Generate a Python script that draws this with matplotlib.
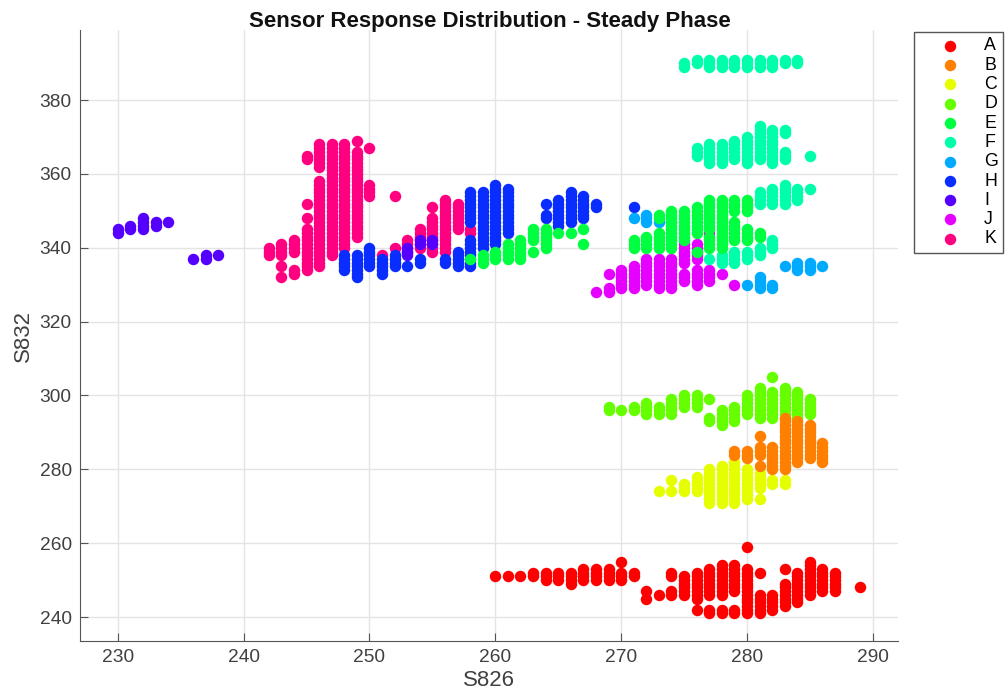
import matplotlib
matplotlib.use('Agg')
import matplotlib.pyplot as plt

plt.rcParams['font.family'] = ['Liberation Sans', 'DejaVu Sans']

labels = ['A', 'B', 'C', 'D', 'E', 'F', 'G', 'H', 'I', 'J', 'K']
colors = ['#ff0000', '#ff8000', '#e6ff00', '#66ff00', '#00ff40', '#00ffaa',
          '#00aaff', '#0a2dff', '#5500ff', '#e600ff', '#ff0080']

# one row per S826 value: (S826, [S832 readings])
A_cols = [
    (260, [251]), (261, [251]), (262, [251]), (263, [252, 251]),
    (264, [252, 251, 250]), (265, [252, 251, 250]), (266, [252, 251, 250, 249]),
    (267, [253, 252, 251, 250]), (268, [253, 252, 251, 250]), (269, [253, 252, 251, 250]),
    (270, [255, 252, 251, 250]), (271, [252, 251]), (272, [247, 245]), (273, [246]),
    (274, [252, 251, 247, 246]), (275, [251, 250, 249, 248, 247, 246]),
    (276, [252, 251, 250, 249, 248, 247, 246, 245, 242]),
    (277, [253, 252, 251, 250, 249, 248, 247, 246, 242, 241]),
    (278, [254, 253, 252, 251, 250, 249, 248, 247, 246, 242, 241]),
    (279, [254, 253, 252, 251, 250, 249, 248, 247, 242, 241]),
    (280, [259, 253, 252, 251, 250, 249, 248, 247, 246, 245, 244, 243, 242, 241]),
    (281, [252, 246, 245, 244, 243, 242, 241]), (282, [246, 245, 244, 243, 242]),
    (283, [253, 249, 248, 247, 246, 245, 244, 243]),
    (284, [252, 251, 250, 249, 248, 247, 246, 245, 244]),
    (285, [255, 254, 253, 252, 251, 250, 249, 248, 247, 246]),
    (286, [253, 252, 251, 250, 249, 248, 247]), (287, [252, 251, 250, 249, 248, 247]),
    (289, [248]),
]
B_cols = [
    (279, [285, 284]), (280, [285, 284, 283]), (281, [289, 286, 285, 284, 281]),
    (282, [286, 285, 284, 283, 282, 281, 280]),
    (283, [294, 293, 292, 291, 290, 289, 288, 287, 286, 285, 284, 283, 282, 281, 280]),
    (284, [293, 292, 291, 290, 289, 288, 287, 286, 285, 284, 283, 282]),
    (285, [292, 291, 290, 289, 288, 287, 286, 285, 284, 283]),
    (286, [287, 286, 285, 284, 283, 282]),
]
C_cols = [
    (273, [274]), (274, [277, 274]), (275, [276, 275, 274]), (276, [278, 277, 276, 275, 274]),
    (277, [280, 279, 278, 277, 276, 275, 274, 273, 272, 271]),
    (278, [281, 280, 279, 278, 277, 276, 275, 274, 273, 272, 271]),
    (279, [282, 281, 280, 279, 278, 277, 276, 275, 274, 273, 272, 271]),
    (280, [280, 279, 278, 277, 276, 275, 274, 273, 272]),
    (281, [279, 278, 277, 276, 275, 272]), (282, [277, 276]), (283, [277, 276]),
]
D_cols = [
    (269, [297, 296]), (270, [296]), (271, [297, 296]), (272, [298, 297, 296, 295]),
    (273, [297, 296, 295]), (274, [299, 298, 297, 296, 295]), (275, [300, 299, 298, 297]),
    (276, [300, 299, 298, 297]), (277, [299, 294, 293]), (278, [296, 295, 294, 293, 292]),
    (279, [297, 296, 295, 294, 293]), (280, [300, 299, 298, 297, 296, 295]),
    (281, [302, 301, 300, 299, 298, 297, 296, 295, 294]),
    (282, [305, 301, 300, 299, 298, 297, 296, 295, 294]),
    (283, [302, 301, 300, 299, 298, 297, 296, 295, 294]),
    (284, [301, 300, 299, 298, 297, 296, 295, 294]),
    (285, [299, 298, 297, 296, 295]),
]
E_cols = [
    (258, [337]), (259, [338, 337, 336]), (260, [339, 338, 337]),
    (261, [341, 340, 339, 338, 337]), (262, [342, 341, 340, 339, 338, 337]),
    (263, [345, 344, 343, 342, 339]), (264, [345, 344, 343, 342, 341, 340]),
    (265, [344]), (266, [344]), (267, [345, 341]),
    (271, [342, 341, 340]), (272, [343, 342, 341, 340]),
    (273, [349, 348, 344, 343, 342, 341, 340]),
    (274, [350, 349, 348, 347, 346, 345, 344, 343, 342, 341, 340]),
    (275, [350, 349, 348, 347, 346, 345, 344, 343, 342]),
    (276, [351, 350, 349, 348, 347, 346, 345, 344, 339]),
    (277, [353, 352, 351, 350, 349, 348, 347, 346, 345, 343, 342, 341, 340]),
    (278, [353, 352, 351, 350, 349, 348, 347, 346, 345, 344, 343, 342, 341, 340]),
    (279, [353, 352, 351, 350, 347, 346, 345, 344, 343, 342]),
    (280, [353, 352, 351, 350, 345, 344, 343, 342]), (281, [344, 343]),
]
F_cols = [
    (275, [390, 389]), (276, [391, 390, 367, 366, 365]),
    (277, [391, 390, 389, 368, 367, 366, 365, 364, 363, 337]),
    (278, [391, 390, 389, 368, 367, 366, 365, 364, 363, 338, 337, 336]),
    (279, [391, 390, 389, 369, 368, 367, 366, 365, 364, 339, 338, 337, 336]),
    (280, [391, 390, 389, 370, 369, 368, 367, 366, 365, 364, 363, 339, 338, 337]),
    (281, [391, 390, 389, 373, 372, 371, 370, 369, 368, 367, 366, 365, 364,
           355, 354, 353, 352, 340, 339, 338]),
    (282, [391, 390, 389, 372, 371, 370, 369, 368, 367, 366, 365, 364, 363,
           356, 355, 354, 353, 352, 342, 341, 340]),
    (283, [391, 390, 372, 371, 366, 365, 364, 357, 356, 355, 354, 353, 352]),
    (284, [391, 390, 356, 355, 354, 353]), (285, [365, 356]),
]
G_cols = [
    (271, [348]), (272, [349, 348, 347]), (273, [347]), (274, [347]),
    (280, [330]), (281, [332, 331, 330, 329]), (282, [330, 329]), (283, [335]),
    (284, [336, 335, 334]), (285, [336, 335, 334]), (286, [335]),
]
H_cols = [
    (248, [338, 337, 336, 335, 334]), (249, [338, 337, 336, 335, 334, 333, 332]),
    (250, [340, 339, 338, 337, 336, 335]), (251, [337, 336, 335, 334, 333]),
    (252, [338, 337, 336, 335]), (253, [335]), (254, [337, 336]), (256, [337, 336]),
    (257, [339, 338, 337, 336, 335]),
    (258, [355, 354, 353, 352, 351, 350, 349, 348, 347, 342, 341, 340, 339, 338, 337, 336, 335]),
    (259, [355, 354, 353, 352, 351, 350, 349, 348, 347, 346, 345, 344, 343, 342, 341, 340]),
    (260, [357, 356, 355, 354, 353, 352, 351, 350, 349, 348, 347, 346, 345, 344, 343, 342, 341]),
    (261, [356, 355, 354, 353, 352, 351, 350, 349, 348, 347, 346, 345, 344]),
    (264, [352, 349, 348]), (265, [353, 352, 351, 350, 349, 348, 347, 346]),
    (266, [355, 354, 353, 352, 351, 350, 349, 348, 347]),
    (267, [354, 353, 352, 351, 350, 349, 348]), (268, [352, 351]), (271, [351]),
]
I_cols = [
    (230, [345, 344]), (231, [346, 345]), (232, [348, 347, 346, 345]), (233, [347, 346]),
    (234, [347]), (236, [337]), (237, [338, 337]), (238, [338]),
    (253, [340, 339, 338]), (254, [342, 341]), (255, [342, 341]),
]
J_cols = [
    (268, [328]), (269, [333, 329, 328]), (270, [334, 333, 332, 331, 330, 329]),
    (271, [335, 334, 333, 332, 331, 330, 329]),
    (272, [337, 336, 335, 334, 333, 332, 331, 330]),
    (273, [337, 336, 335, 334, 333, 332, 331, 330, 329]),
    (274, [337, 336, 335, 334, 333, 332, 331, 330, 329]),
    (275, [341, 340, 339, 338, 337, 336, 333, 332, 331]),
    (276, [341, 340, 339, 338, 337, 334, 333, 332, 331, 330]),
    (277, [344, 334, 333, 332, 331]), (278, [333]), (279, [330]),
]
K_cols = [
    (242, [340, 339, 338]), (243, [341, 340, 339, 338, 335, 332]),
    (244, [342, 341, 340, 339, 334, 333]),
    (245, [365, 364, 352, 348, 345, 344, 343, 342, 341, 340, 339, 338, 337, 336, 335, 334]),
    (246, [368, 367, 366, 365, 364, 363, 362, 358, 357, 356, 355, 354, 353, 352, 351, 350,
           349, 348, 347, 346, 345, 344, 343, 342, 341, 340, 339, 338, 337, 336, 335]),
    (247, [368, 367, 366, 365, 364, 363, 362, 361, 360, 359, 358, 357, 356, 355, 354, 353,
           352, 351, 350, 349, 348, 347, 346, 345, 344, 343, 342, 341, 340, 339, 338]),
    (248, [368, 367, 366, 365, 364, 363, 362, 361, 360, 359, 358, 357, 356, 355, 354, 353,
           352, 351, 350, 349, 348, 347, 346, 345, 344, 343, 342, 341, 340]),
    (249, [369, 366, 365, 364, 363, 362, 361, 360, 359, 358, 357, 356, 355, 354, 353, 352,
           351, 350, 349, 348, 347, 346, 345, 344, 343]),
    (250, [367, 357, 356, 355, 354]), (251, [338]), (252, [354, 340]),
    (253, [342, 341, 340, 339]), (254, [345, 344, 343, 342, 341, 340]),
    (255, [351, 348, 347, 346, 345, 344, 343, 342, 341, 340, 339]),
    (256, [353, 352, 351, 350, 349, 348, 347, 346, 345, 344, 343, 342, 341, 340, 339]),
    (257, [352, 351, 350, 349, 348, 347, 346, 345]), (258, [345, 344]),
]

all_cols = [A_cols, B_cols, C_cols, D_cols, E_cols, F_cols, G_cols, H_cols, I_cols, J_cols, K_cols]

fig = plt.figure(figsize=(10.06, 6.93), dpi=100)
ax = fig.add_axes([80 / 1006, 1 - 641 / 693, (898 - 80) / 1006, (641 - 30) / 693])

# K is drawn first, A last
for i in reversed(range(len(labels))):
    xs = []
    ys = []
    for x, vals in all_cols[i]:
        xs += [x] * len(vals)
        ys += vals
    ax.scatter(xs, ys, s=68, color=colors[i], linewidths=0, label=labels[i], zorder=3)

ax.set_xlim(227, 292)
ax.set_ylim(233.5, 399)
ax.set_xticks(range(230, 291, 10))
ax.set_yticks(range(240, 381, 20))
ax.grid(True, color='#e4e4e4', linewidth=1)
ax.set_axisbelow(True)
ax.spines['top'].set_visible(False)
ax.spines['right'].set_visible(False)
ax.spines['left'].set_color('#555555')
ax.spines['bottom'].set_color('#555555')
ax.tick_params(direction='in', length=6, color='#555555', labelcolor='#404040', labelsize=13.8, pad=6)

ax.set_xlabel('S826', fontsize=16, color='#404040', labelpad=3)
ax.set_ylabel('S832', fontsize=16, color='#404040', labelpad=4)
fig.text(489.5 / 1006, 1 - 21.5 / 693, 'Sensor Response Distribution - Steady Phase',
         fontsize=16, fontweight='bold', color='#111111', ha='center', va='center')

handles, names = ax.get_legend_handles_labels()
leg = ax.legend(handles[::-1], names[::-1], loc='upper left',
                bbox_to_anchor=(914 / 1006, 1 - 32 / 693), bbox_transform=fig.transFigure,
                fontsize=12.8, frameon=True, fancybox=False, edgecolor='#555555', framealpha=1,
                labelspacing=0.13, handletextpad=0.25, borderaxespad=0, borderpad=0.3,
                handlelength=3.4, scatterpoints=1)
leg.get_frame().set_linewidth(1.0)

fig.savefig('out.png', dpi=100)
